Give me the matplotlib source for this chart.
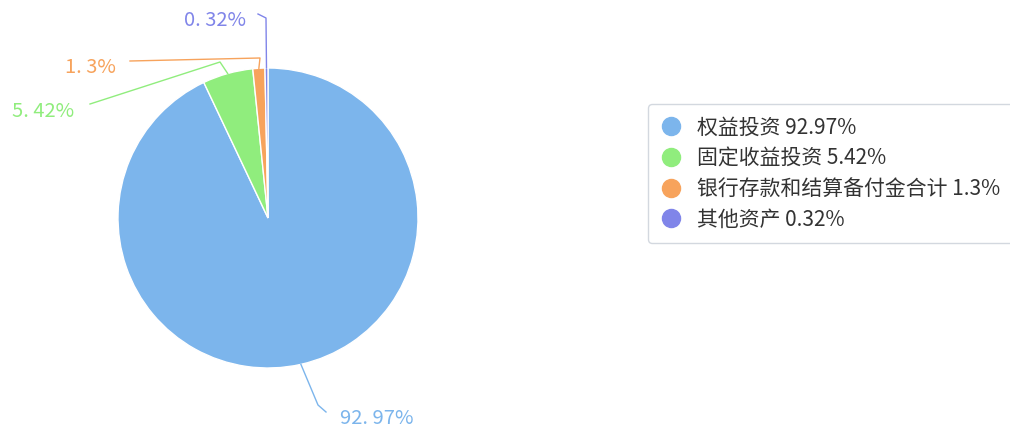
import numpy as np
import matplotlib.pyplot as plt
from matplotlib.lines import Line2D

plt.rcParams['font.family'] = ['Noto Sans CJK SC', 'DejaVu Sans']

# data
names = ['权益投资', '固定收益投资', '银行存款和结算备付金合计', '其他资产']
values = [92.97, 5.42, 1.3, 0.32]
value_labels = ['92. 97%', '5. 42%', '1. 3%', '0. 32%']
colors = ['#7cb5ec', '#90ed7d', '#f7a35c', '#8085e9']

W, H = 1010, 428
fig = plt.figure(figsize=(W / 100, H / 100), dpi=100)
ax = fig.add_axes([0, 0, 1, 1])

cx, cy, r = 268, H - 218, 150
wedges, _ = ax.pie(values, colors=colors, startangle=90, counterclock=False,
                   center=(cx, cy), radius=r,
                   wedgeprops=dict(edgecolor='white', linewidth=1))
ax.set_xlim(0, W)
ax.set_ylim(0, H)
ax.set_aspect('auto')
ax.axis('off')

# label layout: (bend point, line end, text position, ha) in pixel coords (y down)
layout = [
    ((318, 405), (326, 412), (340, 418), 'left'),
    ((220, 62), (90, 104), (74, 111), 'right'),
    ((260, 58), (130, 61), (116, 67), 'right'),
    ((266, 18), (258, 14), (246, 20), 'right'),
]

for w, lab, col, (bend, end, tpos, ha) in zip(wedges, value_labels, colors, layout):
    mid = np.deg2rad((w.theta1 + w.theta2) / 2)
    sx = cx + r * np.cos(mid)
    sy = cy + r * np.sin(mid)
    xs = [sx, bend[0], end[0]]
    ys = [sy, H - bend[1], H - end[1]]
    ax.plot(xs, ys, color=col, lw=1)
    ax.text(tpos[0], H - tpos[1], lab, color=col, fontsize=14.5,
            ha=ha, va='center')

handles = [Line2D([], [], marker='o', linestyle='none', markersize=13,
                  markerfacecolor=c, markeredgecolor=c) for c in colors]
labels = [n + ' ' + f'{v:g}%' for n, v in zip(names, values)]
leg = ax.legend(handles, labels, loc='upper left',
                bbox_to_anchor=(648 / W, 1 - 104 / H), bbox_transform=fig.transFigure,
                fontsize=15, frameon=True, fancybox=True, edgecolor='#c8cfd8',
                labelspacing=0.42, handletextpad=0.75, borderpad=0.6,
                borderaxespad=0, handlelength=1.0, labelcolor='#333333')
leg.get_frame().set_linewidth(1)

fig.savefig('out.png', dpi=100)
